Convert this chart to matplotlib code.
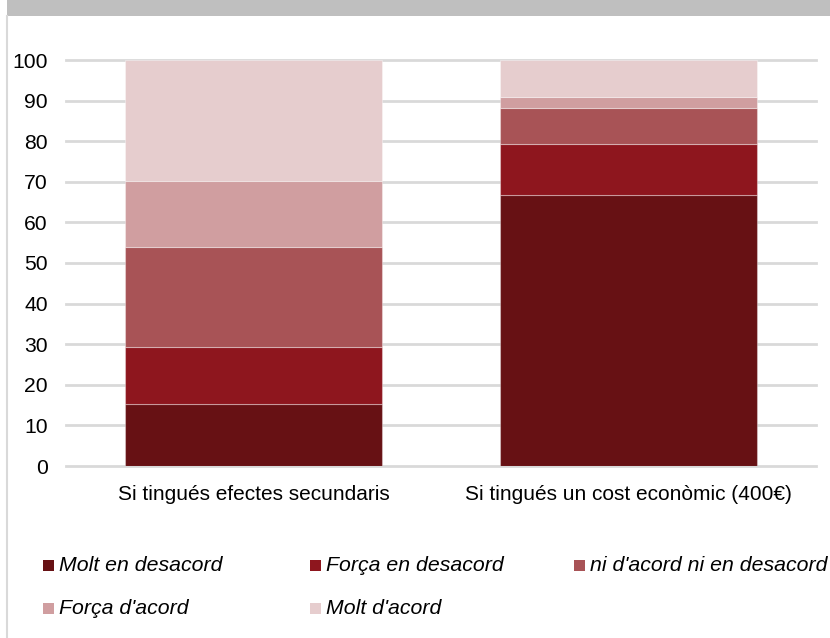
import matplotlib
matplotlib.use("Agg")
import matplotlib.pyplot as plt
from matplotlib.patches import Rectangle
from matplotlib.lines import Line2D
import numpy as np

plt.rcParams['font.family'] = ['Liberation Sans', 'DejaVu Sans']

categories = ["Si tingués efectes secundaris", "Si tingués un cost econòmic (400€)"]
series_names = ["Molt en desacord", "Força en desacord", "ni d'acord ni en desacord",
                "Força d'acord", "Molt d'acord"]
molt_desacord = [15.3, 66.7]
forca_desacord = [14.0, 12.6]
ni_ni = [24.6, 8.9]
forca_acord = [16.3, 2.7]
molt_acord = [29.8, 9.1]
series_values = [molt_desacord, forca_desacord, ni_ni, forca_acord, molt_acord]
colors = ["#671114", "#8E161E", "#A85356", "#D09EA0", "#E6CDCE"]
yticks = [0, 10, 20, 30, 40, 50, 60, 70, 80, 90, 100]

W, H = 830, 638
fig = plt.figure(figsize=(W / 100, H / 100), dpi=100)

# top grey banner and left border
fig.patches.append(Rectangle((7 / W, 1 - 16 / H), 1 - 7 / W, 16 / H,
                             transform=fig.transFigure, facecolor="#BFBFBF",
                             edgecolor="none", zorder=0))
fig.lines.append(Line2D([7 / W, 7 / W], [0, 1 - 16 / H], transform=fig.transFigure,
                        color="#D9D9D9", lw=1.5))

ax = fig.add_axes([66 / W, 1 - 466 / H, 750 / W, 406 / H])
x = np.arange(len(categories))
bottom = np.zeros(len(categories))
for name, vals, c in zip(series_names, series_values, colors):
    ax.bar(x, vals, width=0.685, bottom=bottom, color=c, label=name,
           edgecolor=(1, 1, 1, 0.35), linewidth=0.8, zorder=3)
    bottom += np.array(vals)

ax.set_xlim(-0.5, 1.5)
ax.set_ylim(0, 100)
ax.set_yticks(yticks)
ax.set_yticklabels([str(t) for t in yticks], fontsize=15.2)
ax.set_xticks(x)
ax.set_xticklabels(categories, fontsize=15)
ax.tick_params(axis='y', length=0, pad=13)
ax.tick_params(axis='x', length=0, pad=14)
for s in ax.spines.values():
    s.set_visible(False)
for t in yticks:
    ax.axhline(t, color="#D9D9D9", lw=2, zorder=1, clip_on=False)

# legend, laid out in fixed-width columns
leg_pos = [(48.5, 565.5), (315.5, 565.5), (579.5, 565.5), (48.5, 608.5), (315.5, 608.5)]
for (px, py), name, c in zip(leg_pos, series_names, colors):
    fig.patches.append(Rectangle(((px - 5.5) / W, 1 - (py + 5.5) / H), 11 / W, 11 / H,
                                 transform=fig.transFigure, facecolor=c,
                                 edgecolor="none"))
    fig.text((px + 10) / W, 1 - py / H, name, fontsize=15.3, style='italic',
             va='center', ha='left')

fig.savefig("out.png", dpi=100)
